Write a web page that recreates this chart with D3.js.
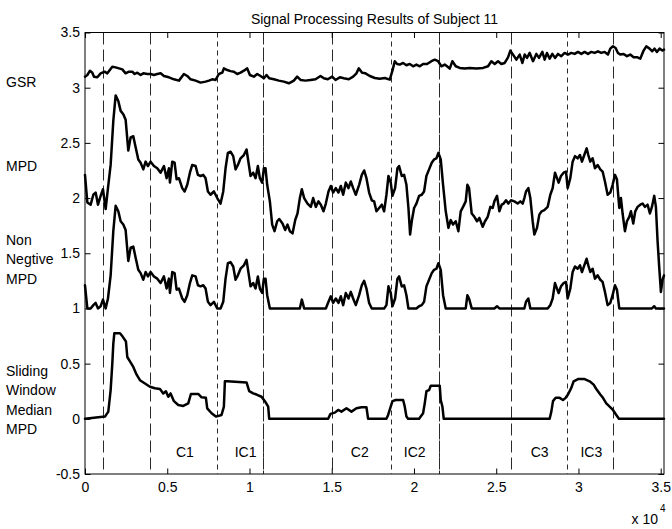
<!DOCTYPE html>
<html><head><meta charset="utf-8">
<script src="https://cdn.jsdelivr.net/npm/d3@7"></script>
<style>
body{margin:0;background:#fff;}
svg{display:block;font-family:"Liberation Sans",Arial,Helvetica,sans-serif;}
</style></head><body>
<svg id="c" width="672" height="529"></svg>
<script>
// ---------------- data ----------------
const mpdX = [
  0,142,344,506,648,790,952,1093,1255,1397,
  1559,1721,1863,2025,2167,2329,2470,2632,2774,2936,
  3078,3240,3382,3544,3685,3827,3989,4192,4394,4597,
  4799,4961,5103,5164,5305,5447,5569,5710,5913,6055,
  6217,6379,6520,6723,6865,7027,7189,7330,7472,7634,
  7837,8039,8242,8404,8545,8687,8849,9011,9153,9295,
  9457,9659,9821,9963,10064,10226,10368,10510,10631,10773,
  10874,10975,11076,11239,11380,11522,11684,11806,12008,12170,
  12312,12454,12616,12778,12919,13061,13183,13324,13527,13729,
  13871,14033,14195,14337,14499,14641,14803,14944,15086,15248,
  15410,15552,15694,15856,16018,16159,16301,16463,16666,16828,
  16969,17111,17273,17435,17577,17719,17881,18043,18184,18326,
  18448,18589,18691,18853,18994,19096,19258,19399,19541,19663,
  19764,19865,20007,20149,20311,20473,20614,20756,20918,21080,
  21222,21364,21485,21627,21769,21931,22093,22234,22376,22538,
  22700,22842,22984,23146,23247,23348,23510,23672,23834,23976,
  24178,24320,24482,24644,24786,24887,25049,25191,25333,25454,
  25596,25738,25900,26102,26305,26467,26609,26710,26811,26953,
  27074,27216,27317,27479,27621,27763,27925,28127,28289,28431,
  28573,28694,28795,28937,29099,29241,29342,29504,29646,29788,
  29950,30091,30213,30355,30496,30598,30719,30861,31003,31165,
  31327,31468,31610,31772,31934,32076,32218,32339,32481,32582,
  32683,32825,32947,33088,33190,33331,33453,33595,33757,33899,
  34040,34202,34344,34465,34607,34708,34810,34911,35012,35113,35200
];
const mpd = [
  2.21,1.96,1.94,2.03,2.05,1.94,2.02,2.08,1.90,2.09,
  2.30,2.70,2.93,2.88,2.79,2.76,2.71,2.43,2.55,2.56,
  2.46,2.35,2.32,2.26,2.33,2.29,2.33,2.29,2.27,2.23,
  2.29,2.18,2.27,2.14,2.33,2.32,2.17,2.18,2.09,2.06,
  2.12,2.23,2.30,2.29,2.21,2.20,2.21,2.18,2.06,2.03,
  2.06,2.00,1.95,2.06,2.27,2.41,2.42,2.38,2.26,2.30,
  2.36,2.39,2.44,2.30,2.20,2.23,2.18,2.29,2.18,2.14,
  2.27,2.27,2.12,1.97,1.76,1.70,1.79,1.81,1.77,1.71,
  1.76,1.70,1.68,1.80,1.86,2.00,2.08,2.00,1.95,1.92,
  2.00,1.92,1.97,1.94,1.88,1.95,2.06,2.11,2.05,2.09,
  2.05,2.11,2.03,2.14,2.09,2.15,2.09,2.03,2.12,2.21,
  2.25,2.18,2.05,1.98,1.97,1.88,1.91,1.94,1.88,2.03,
  2.20,2.14,2.02,2.09,2.27,2.29,2.20,2.21,2.12,1.91,
  1.67,1.79,1.91,1.95,2.02,2.03,2.06,2.20,2.26,2.32,
  2.35,2.36,2.41,2.35,2.12,1.88,1.73,1.80,1.76,1.79,
  1.70,1.88,1.92,1.97,2.12,2.09,1.86,1.83,1.79,1.82,
  1.74,1.79,1.83,1.92,1.91,1.97,2.02,1.88,1.94,1.95,
  1.98,1.95,1.98,1.97,1.95,1.97,1.95,2.00,2.06,2.09,
  2.00,1.79,1.67,1.73,1.85,1.88,1.89,1.92,2.03,2.09,
  2.23,2.18,2.14,2.20,2.23,2.24,2.09,2.18,2.33,2.38,
  2.36,2.39,2.33,2.39,2.45,2.39,2.33,2.36,2.27,2.30,
  2.26,2.24,2.15,2.03,2.05,2.12,2.21,2.17,1.91,2.00,
  1.86,1.70,1.79,1.83,1.88,1.77,1.88,1.92,1.94,1.95,
  1.92,1.94,1.86,1.92,2.02,1.92,1.61,1.37,1.15,1.26,1.30
];
const nonNeg = [
  1.21,1,1,1.03,1.05,1,1.02,1.08,1,1.09,
  1.30,1.70,1.93,1.88,1.79,1.76,1.71,1.43,1.55,1.56,
  1.46,1.35,1.32,1.26,1.33,1.29,1.33,1.29,1.27,1.23,
  1.29,1.18,1.27,1.14,1.33,1.32,1.17,1.18,1.09,1.06,
  1.12,1.23,1.30,1.29,1.21,1.20,1.21,1.18,1.06,1.03,
  1.06,1,1,1.06,1.27,1.41,1.42,1.38,1.26,1.30,
  1.36,1.39,1.44,1.30,1.20,1.23,1.18,1.29,1.18,1.14,
  1.27,1.27,1.12,1,1,1,1,1,1,1,
  1,1,1,1,1,1,1.08,1,1,1,
  1,1,1,1,1,1,1.06,1.11,1.05,1.09,
  1.05,1.11,1.03,1.14,1.09,1.15,1.09,1.03,1.12,1.21,
  1.25,1.18,1.05,1,1,1,1,1,1,1.03,
  1.20,1.14,1.02,1.09,1.27,1.29,1.20,1.21,1.12,1,
  1,1,1,1,1.02,1.03,1.06,1.20,1.26,1.32,
  1.35,1.36,1.41,1.35,1.12,1,1,1,1,1,
  1,1,1,1,1.12,1.09,1,1,1,1,
  1,1,1,1,1,1,1.02,1,1,1,
  1,1,1,1,1,1,1,1,1.06,1.09,
  1,1,1,1,1,1,1,1,1.03,1.09,
  1.23,1.18,1.14,1.20,1.23,1.24,1.09,1.18,1.33,1.38,
  1.36,1.39,1.33,1.39,1.45,1.39,1.33,1.36,1.27,1.30,
  1.26,1.24,1.15,1.03,1.05,1.12,1.21,1.17,1,1,
  1,1,1,1,1,1,1,1,1,1,
  1,1,1,1,1.02,1,1,1,1,1,1
];
const gsr = [
  [0,3.10],[142,3.115],[304,3.154],[445,3.136],[547,3.10],[749,3.094],[952,3.13],[1195,3.145],[1357,3.13],
  [1660,3.19],[1863,3.184],[2065,3.175],[2268,3.166],[2470,3.13],[2673,3.145],[2875,3.145],[3017,3.124],
  [3179,3.136],[3382,3.115],[3544,3.13],[3787,3.124],[3989,3.124],[4192,3.115],[4394,3.124],[4597,3.13],
  [4799,3.106],[5103,3.094],[5407,3.076],[5710,3.064],[6014,3.124],[6217,3.106],[6419,3.076],[6723,3.064],
  [7027,3.046],[7330,3.055],[7533,3.064],[7735,3.076],[7938,3.07],[8140,3.124],[8343,3.136],[8444,3.175],
  [8647,3.16],[8849,3.15],[9052,3.145],[9254,3.124],[9457,3.136],[9659,3.154],[9862,3.175],[10024,3.115],
  [10267,3.10],[10469,3.124],[10672,3.106],[10874,3.085],[11036,3.115],[11198,3.085],[11482,3.076],
  [11785,3.064],[12089,3.055],[12393,3.04],[12697,3.064],[12899,3.10],[13102,3.07],[13405,3.064],
  [13709,3.07],[14013,3.076],[14317,3.106],[14519,3.085],[14762,3.076],[15025,3.10],[15228,3.07],
  [15491,3.094],[15734,3.085],[16038,3.076],[16301,3.10],[16504,3.13],[16645,3.175],[16848,3.136],
  [17050,3.13],[17313,3.106],[17618,3.088],[17922,3.082],[18225,3.088],[18529,3.073],[18691,3.155],
  [18833,3.24],[18975,3.215],[19137,3.209],[19339,3.224],[19542,3.203],[19744,3.215],[19947,3.194],
  [20149,3.209],[20352,3.194],[20554,3.215],[20797,3.215],[21060,3.24],[21263,3.254],[21465,3.24],
  [21668,3.194],[21870,3.209],[22012,3.194],[22174,3.173],[22336,3.24],[22539,3.194],[22782,3.179],
  [23085,3.173],[23389,3.179],[23794,3.173],[24199,3.179],[24503,3.194],[24705,3.24],[24908,3.215],
  [25110,3.24],[25313,3.215],[25515,3.224],[25718,3.275],[25860,3.336],[26022,3.30],[26224,3.254],
  [26427,3.30],[26589,3.224],[26730,3.30],[26872,3.27],[27034,3.315],[27237,3.24],[27439,3.306],
  [27601,3.27],[27804,3.324],[27945,3.254],[28087,3.315],[28249,3.263],[28411,3.306],[28573,3.27],
  [28755,3.306],[28958,3.285],[29160,3.315],[29363,3.30],[29565,3.315],[29768,3.306],[29970,3.324],
  [30173,3.306],[30375,3.324],[30578,3.306],[30780,3.324],[30983,3.315],[31185,3.33],[31388,3.315],
  [31590,3.324],[31793,3.30],[31935,3.354],[32097,3.375],[32259,3.36],[32400,3.315],[32542,3.30],
  [32745,3.306],[32947,3.285],[33150,3.30],[33352,3.276],[33555,3.276],[33757,3.263],[33960,3.336],
  [34122,3.375],[34324,3.354],[34486,3.33],[34628,3.354],[34770,3.324],[34932,3.354],[35094,3.336],[35200,3.345]
];
const swm = [
  [0,0],[1215,0.02],[1417,0.065],[1559,0.26],[1660,0.50],[1721,0.68],[1782,0.775],[2126,0.775],
  [2288,0.745],[2490,0.70],[2571,0.56],[2733,0.52],[2936,0.47],[3139,0.40],[3341,0.35],[3645,0.32],
  [3949,0.29],[4252,0.277],[4556,0.27],[4759,0.23],[4921,0.25],[5062,0.20],[5204,0.23],[5407,0.16],
  [5670,0.125],[5974,0.117],[6277,0.14],[6439,0.225],[6885,0.225],[7087,0.195],[7350,0.19],[7431,0.095],
  [7695,0.05],[7958,0.02],[8302,0.035],[8444,0.11],[8505,0.34],[8647,0.34],[9821,0.33],[9983,0.25],
  [10226,0.23],[10429,0.22],[10733,0.20],[10935,0.16],[11137,0.11],[11198,0],[14782,0],[14924,0.045],
  [15187,0.056],[15390,0.08],[15592,0.065],[15896,0.095],[16200,0.065],[16504,0.095],[16807,0.105],
  [17111,0.105],[17212,0],[18326,0],[18428,0.035],[18691,0.16],[18894,0.17],[19339,0.17],[19440,0.11],
  [19542,0.02],[19643,0],[20311,0],[20554,0.05],[20655,0.14],[20757,0.25],[20919,0.26],[21020,0.30],
  [21566,0.30],[21627,0.17],[21728,0.11],[21810,0],[28249,0],[28350,0.065],[28452,0.16],[28614,0.19],
  [28857,0.19],[29059,0.17],[29221,0.19],[29363,0.22],[29565,0.28],[29707,0.34],[29970,0.36],[30375,0.36],
  [30679,0.34],[30922,0.31],[31084,0.27],[31327,0.22],[31489,0.19],[31691,0.14],[31894,0.11],[32097,0.08],
  [32299,0.035],[32461,0],[35200,0]
];
const eventX    = [1116, 3982, 8030, 10835, 15043, 18579, 21524, 25872, 29287, 32091];
const eventKind = ['long','long','short','double','long','short','double','long','short','long'];
const segLabels = ['C1','IC1','C2','IC2','C3','IC3'];
const segLabelX = [6075, 9762, 16706, 20048, 27641, 30782];
const xTicks = [0,5000,10000,15000,20000,25000,30000,35000];
const xTickLabels = ['0','0.5','1','1.5','2','2.5','3','3.5'];
const yTicks = [-0.5,0,0.5,1,1.5,2,2.5,3,3.5];
const yTickLabels = ['-0.5','0','0.5','1','1.5','2','2.5','3','3.5'];
const rowLabels = [['GSR'],['MPD'],['Non','Negtive','MPD'],['Sliding','Window','Median','MPD']];
const titleText = 'Signal Processing Results of Subject 11';

// ---------------- layout ----------------
const L = 85, R = 664, T = 32.5, B = 474;
const svg = d3.select('#c');
const x = d3.scaleLinear().domain([0, 35200]).range([L, R]);
const y = d3.scaleLinear().domain([-0.5, 3.5]).range([B, T]);
const FS = 14;

// event lines
const dashLong = '12,5', dashShort = '5,4';
const ev = svg.append('g');
eventX.forEach((d, i) => {
  const k = eventKind[i];
  const px = Math.round(x(d)) + 0.5;
  const pats = k === 'double' ? [dashLong, dashShort] : [k === 'long' ? dashLong : dashShort];
  pats.forEach((p, j) => {
    ev.append('line').attr('x1', px).attr('x2', px).attr('y1', T).attr('y2', B)
      .attr('stroke', '#2a2a2a').attr('stroke-width', 1)
      .attr('stroke-dasharray', p).attr('stroke-dashoffset', j * 3);
  });
});

// series
const lineXY = d3.line().x(d => x(d[0])).y(d => y(d[1]));
const series = [
  gsr,
  mpdX.map((v,i) => [v, mpd[i]]),
  mpdX.map((v,i) => [v, nonNeg[i]]),
  swm
];
svg.append('g').selectAll('path').data(series).join('path')
  .attr('d', lineXY).attr('fill','none').attr('stroke','#000')
  .attr('stroke-width', 2.5).attr('stroke-linejoin','round').attr('stroke-linecap','round');

// axes (MATLAB style inward ticks on all four sides)
const tl = 5.5;
const gx = svg.append('g').attr('transform', `translate(0,${B})`)
  .call(d3.axisBottom(x).tickValues(xTicks).tickSize(-tl).tickPadding(8)
    .tickFormat((d,i) => xTickLabels[i]));
const gxt = svg.append('g').attr('transform', `translate(0,${T})`)
  .call(d3.axisTop(x).tickValues(xTicks).tickSize(-tl).tickFormat(''));
const gy = svg.append('g').attr('transform', `translate(${L},0)`)
  .call(d3.axisLeft(y).tickValues(yTicks).tickSize(-tl).tickPadding(5)
    .tickFormat((d,i) => yTickLabels[i]));
const gyr = svg.append('g').attr('transform', `translate(${R},0)`)
  .call(d3.axisRight(y).tickValues(yTicks).tickSize(-tl).tickFormat(''));
[gx,gxt,gy,gyr].forEach(g => {
  g.select('.domain').remove();
  g.selectAll('line').attr('stroke','#000');
  g.selectAll('text').attr('font-size', FS).attr('fill','#000').attr('font-family','"Liberation Sans",Arial,sans-serif');
});
svg.append('rect').attr('x', L).attr('y', T).attr('width', R-L).attr('height', B-T)
  .attr('fill','none').attr('stroke','#000').attr('stroke-width',1);

// segment labels
svg.append('g').selectAll('text').data(segLabels).join('text')
  .attr('x', (d,i) => x(segLabelX[i])).attr('y', y(-0.35))
  .attr('text-anchor','middle').attr('font-size', FS).text(d => d);

// row labels at left
const rowY = [82, 166, 259, 400];
rowLabels.forEach((lines, i) => {
  const n = lines.length, lh = 19.5;
  lines.forEach((s, j) => {
    svg.append('text').attr('x', 6)
      .attr('y', rowY[i] + (j - (n-1)/2) * lh + 5)
      .attr('font-size', FS).text(s);
  });
});

// title
svg.append('text').attr('x', (L+R)/2).attr('y', 24).attr('text-anchor','middle')
  .attr('font-size', FS).text(titleText);

// exponent
svg.append('text').attr('x', 658).attr('y', 524).attr('text-anchor','end').attr('font-size', FS).text('x 10');
svg.append('text').attr('x', 660).attr('y', 512).attr('font-size', 10).text('4');
</script>
</body></html>
